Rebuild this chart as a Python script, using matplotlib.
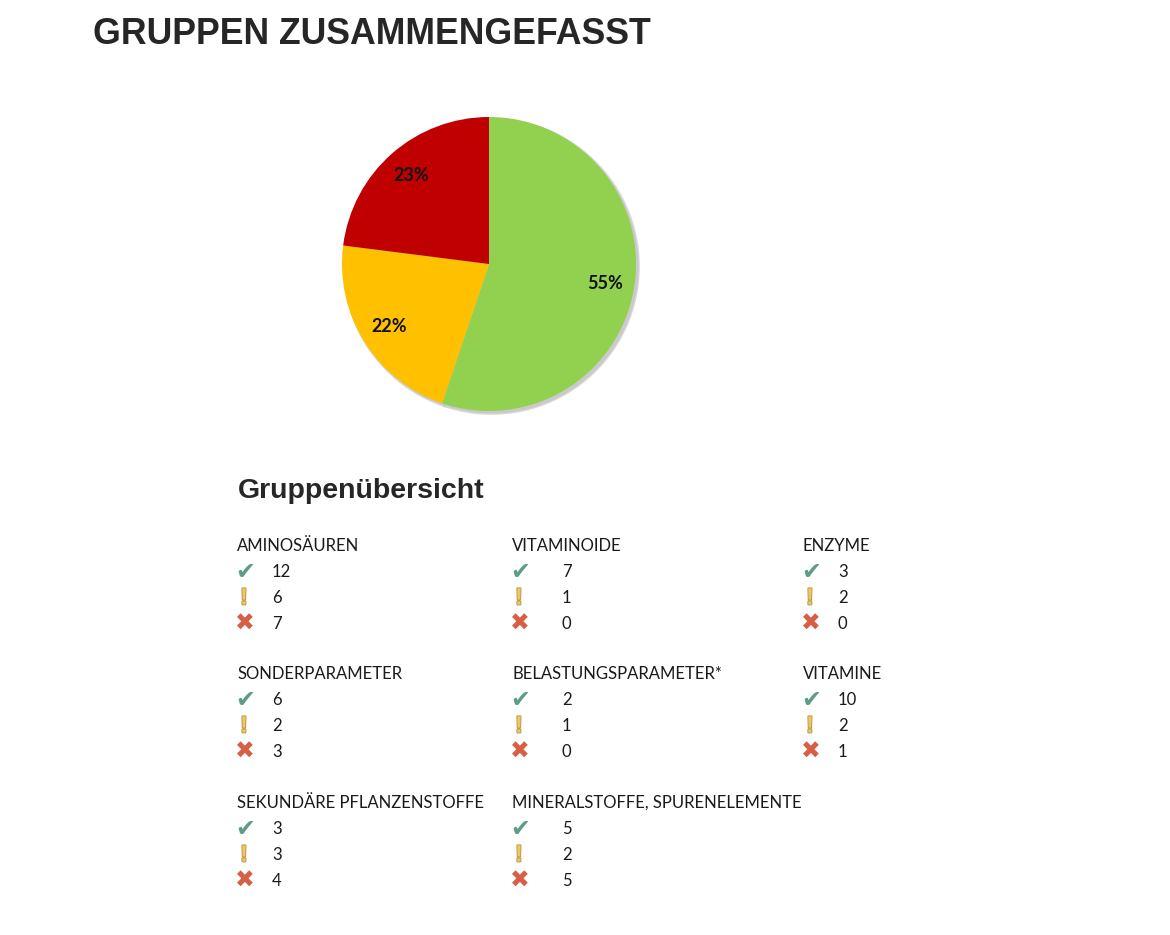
import matplotlib
matplotlib.use("Agg")
import matplotlib.pyplot as plt
import matplotlib.patheffects as pe

W, H = 1170, 935

groups = ["AMINOSÄUREN", "VITAMINOIDE", "ENZYME",
          "SONDERPARAMETER", "BELASTUNGSPARAMETER*", "VITAMINE",
          "SEKUNDÄRE PFLANZENSTOFFE", "MINERALSTOFFE, SPURENELEMENTE"]
ok = [12, 7, 3, 6, 2, 10, 3, 5]
warn = [6, 1, 2, 2, 1, 2, 3, 2]
bad = [7, 0, 0, 3, 0, 1, 4, 5]

pie_colors = ["#92d050", "#ffc000", "#c00000"]


def fx(x):
    return x / W


def fy(y):
    return 1 - y / H


fig = plt.figure(figsize=(W / 100, H / 100), dpi=100)
fig.patch.set_facecolor("white")

fig.text(fx(93), fy(34), "GRUPPEN ZUSAMMENGEFASST", family="Liberation Sans",
         weight="bold", fontsize=25.7, color="#262626", va="center", ha="left")

# pie
cx, cy, r = 489, 264, 147
ax = fig.add_axes([fx(cx - r), fy(cy + r), 2 * r / W, 2 * r / H])
totals = [sum(ok), sum(warn), sum(bad)]
wedges, texts, autotexts = ax.pie(
    totals, colors=pie_colors, startangle=90, counterclock=False,
    autopct="%1.0f%%", pctdistance=0.8, radius=1,
    shadow=dict(ox=0.012, oy=-0.012, facecolor="#b5b5b5",
                edgecolor="#c8c8c8", linewidth=2, alpha=0.7),
    textprops=dict(family="Lato", weight="bold", fontsize=13, color="#111111"))
ax.set_xlim(-1, 1)
ax.set_ylim(-1, 1)
ax.axis("off")

fig.text(fx(238), fy(491), "Gruppenübersicht", family="Liberation Sans",
         weight="bold", fontsize=20.5, color="#262626", va="center", ha="left")

col_x = [237, 512, 803]
num_dx = [35, 50, 35]
row_y = [546, 674, 803]
step = 26
body = dict(family="Lato", fontsize=12.0, color="#1a1a1a", va="center", ha="left")

for i, name in enumerate(groups):
    x0 = col_x[i % 3]
    y0 = row_y[i // 3]
    fig.text(fx(x0), fy(y0), name, **body)
    vals = [ok[i], warn[i], bad[i]]
    for k, v in enumerate(vals):
        yy = y0 + step * (k + 1)
        ix = x0 + 8
        if k == 0:
            fig.text(fx(ix), fy(yy), "\u2714", family="DejaVu Sans", fontsize=17,
                     color="#5e9c8a", ha="center", va="center")
        elif k == 1:
            fig.text(fx(ix - 1), fy(yy), "!", family="Liberation Sans", weight="bold",
                     fontsize=17, color="#ecc867", ha="center", va="center",
                     path_effects=[pe.withStroke(linewidth=1.2, foreground="#b8913c")])
        else:
            fig.text(fx(ix), fy(yy), "\u2716", family="DejaVu Sans", fontsize=17,
                     color="#d65f45", ha="center", va="center")
        fig.text(fx(x0 + num_dx[i % 3]), fy(yy), str(v), **body)

fig.savefig("out.png", dpi=100)
